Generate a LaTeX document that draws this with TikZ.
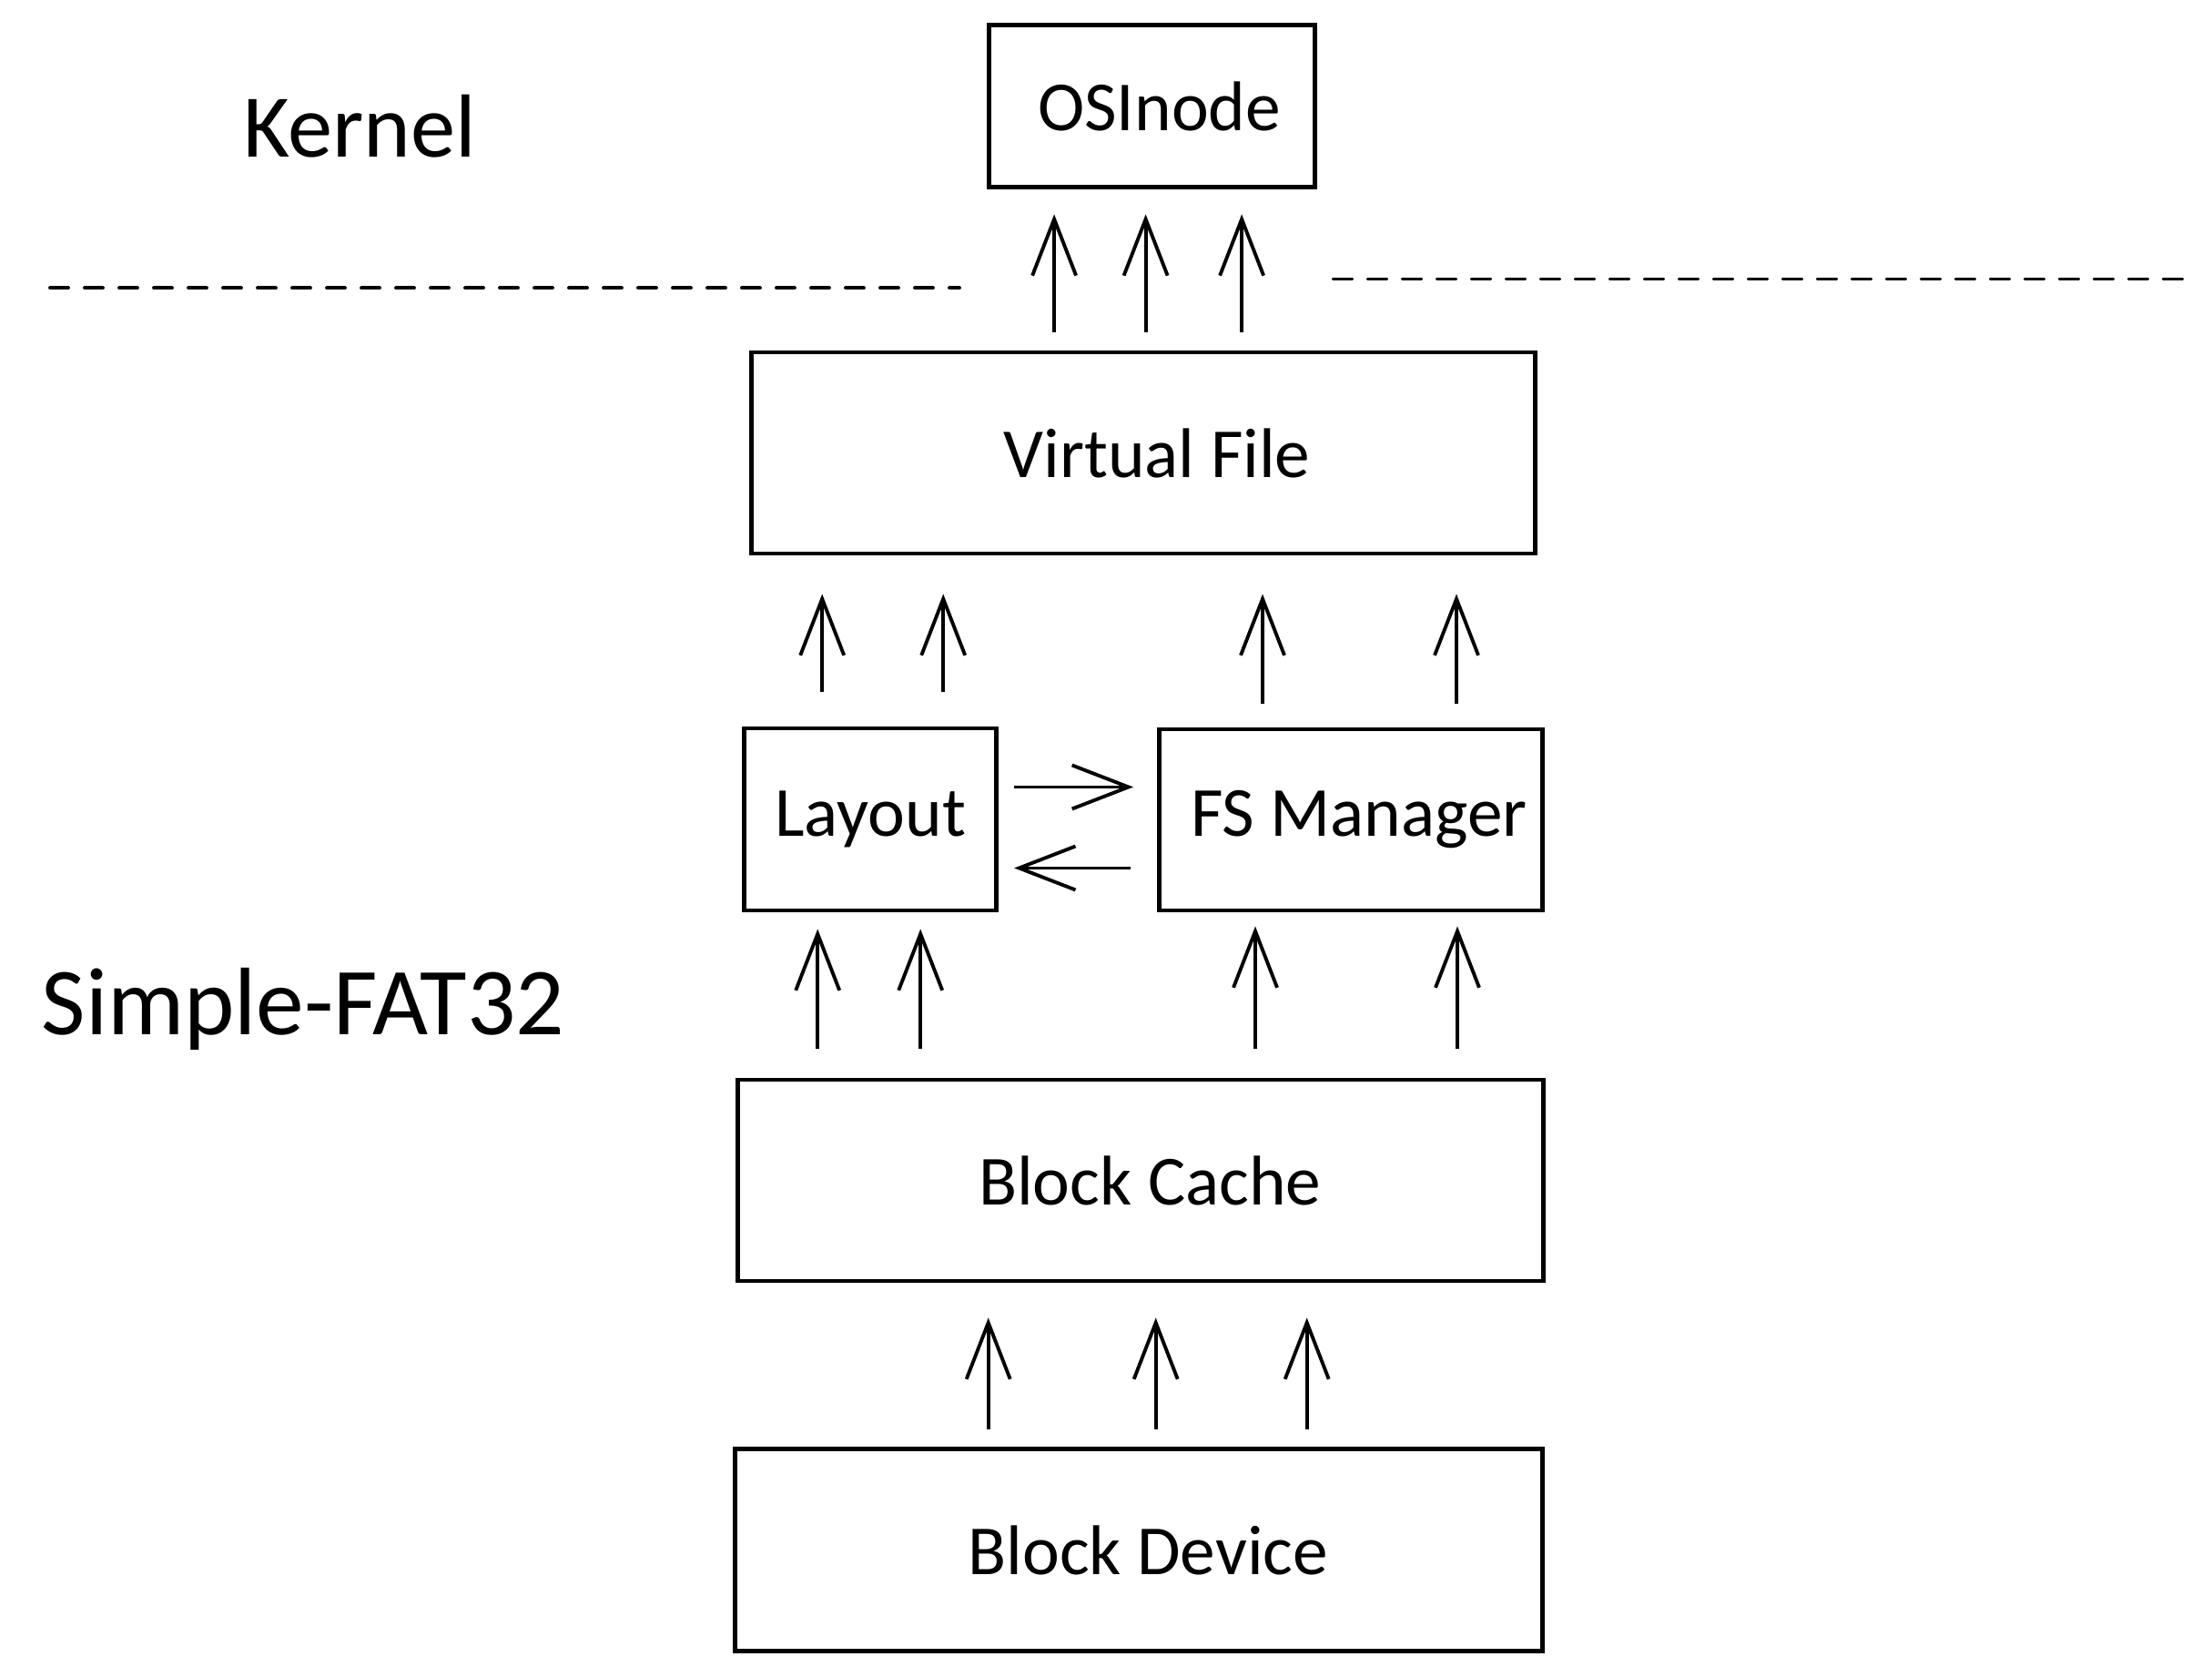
\documentclass[tikz,border=0pt]{standalone}
\usepackage{fontspec}
\setmainfont{Carlito}
\usetikzlibrary{arrows.meta}
\tikzset{
  box/.style={draw,line width=1.4pt,inner sep=0pt,font=\fontsize{22}{26}\selectfont},
  arr/.style={line width=1.1pt,-{Straight Barb[length=0.62cm,width=0.48cm,line width=1.1pt]}},
  sep/.style={line width=1.1pt,line cap=round,dash pattern=on 0.2cm off 0.18cm}
}
\begin{document}
\begin{tikzpicture}
\useasboundingbox (0,0) rectangle (24.3,18.42);
\node [box,minimum width=3.58cm,minimum height=1.78cm,text depth=0pt,align=center] (osi) at (12.656,17.251) {\hspace*{0.16cm}OSInode};
\node [box,minimum width=8.61cm,minimum height=2.21cm] (vf) at (12.562,13.445) {\hspace*{0.3cm}Virtual File};
\node [box,minimum width=2.77cm,minimum height=2.0cm] (lay) at (9.562,9.42) {Layout};
\node [box,minimum width=4.21cm,minimum height=1.99cm] (fsm) at (14.84,9.415) {\hspace*{0.18cm}FS Manager};
\node [box,minimum width=8.85cm,minimum height=2.21cm] (bc) at (12.532,5.455) {\hspace*{0.2cm}Block Cache};
\node [box,minimum width=8.87cm,minimum height=2.22cm] (bd) at (12.512,1.391) {\hspace*{0.2cm}Block Device};
\node [font=\fontsize{28}{32}\selectfont] (kern) at (3.95,17.03) {Kernel};
\node [font=\fontsize{30}{34}\selectfont] (sfat) at (3.33,7.336) {Simple-FAT32};
\coordinate (sepa) at (0.55,15.256);
\coordinate (sepb) at (10.54,15.256);
\coordinate (sepc) at (14.65,15.355);
\coordinate (sepd) at (24.1,15.355);
\draw [sep] (sepa) -- (sepb);
\draw [sep] (sepc) -- (sepd);
\foreach \s in {-1.675,0.165,1.825}
  \draw [arr,shorten <=0.19cm,shorten >=0.38cm] ([xshift=\s cm]bc.south |- bd.north) -- ([xshift=\s cm]bc.south);
\foreach \s in {-0.58,0.55}
  \draw [arr,shorten <=0.32cm,shorten >=0.18cm] ([xshift=\s cm]lay.south |- bc.north) -- ([xshift=\s cm]lay.south);
\foreach \s in {-1.05,1.17}
  \draw [arr,shorten <=0.32cm,shorten >=0.15cm] ([xshift=\s cm]fsm.south |- bc.north) -- ([xshift=\s cm]fsm.south);
\foreach \s in {-0.53,0.8}
  \draw [arr,shorten <=0.38cm,shorten >=0.42cm] ([xshift=\s cm]lay.north) -- ([xshift=\s cm]lay.north |- vf.south);
\foreach \s in {-0.97,1.16}
  \draw [arr,shorten <=0.26cm,shorten >=0.42cm] ([xshift=\s cm]fsm.north) -- ([xshift=\s cm]fsm.north |- vf.south);
\foreach \s in {-1.075,-0.07,0.985}
  \draw [arr,shorten <=0.2cm,shorten >=0.27cm] ([xshift=\s cm]osi.south |- vf.north) -- ([xshift=\s cm]osi.south);
\draw [arr,shorten <=0.17cm,shorten >=0.26cm] ([yshift=0.355cm]lay.east) -- ([yshift=0.355cm]lay.east -| fsm.west);
\draw [arr,shorten <=0.29cm,shorten >=0.17cm] ([yshift=-0.535cm]lay.east -| fsm.west) -- ([yshift=-0.535cm]lay.east);
\end{tikzpicture}
\end{document}
